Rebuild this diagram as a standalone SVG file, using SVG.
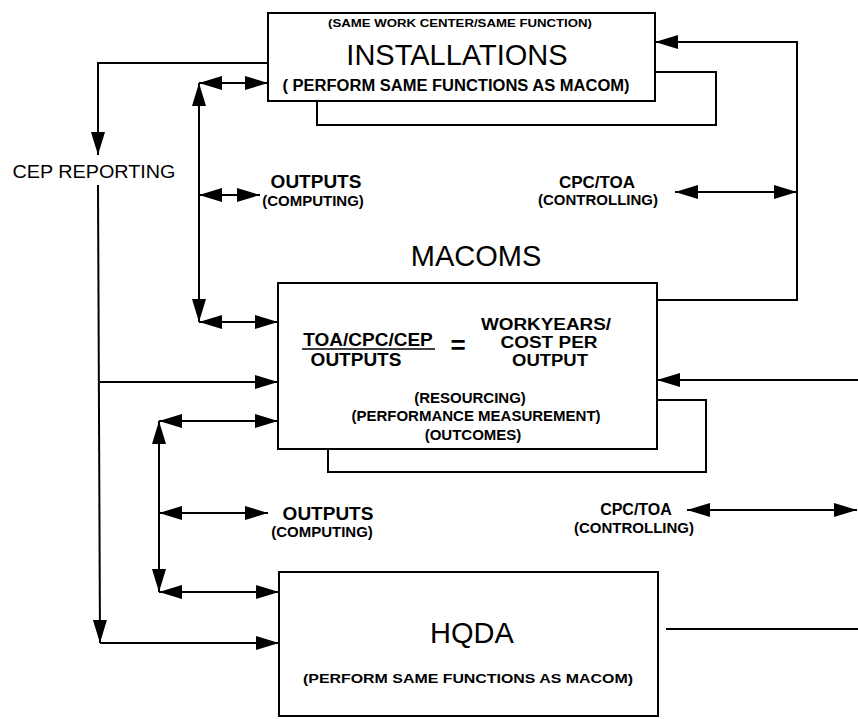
<svg xmlns="http://www.w3.org/2000/svg" width="858" height="719" viewBox="0 0 858 719">
<defs>
<style>
.box{fill:#fff;stroke:#000;stroke-width:2}
.ln{fill:none;stroke:#000;stroke-width:2}
.a{marker-end:url(#ah)}
.aa{marker-start:url(#ah);marker-end:url(#ah)}
text{font-family:"Liberation Sans",Arial,sans-serif;fill:#000;text-anchor:middle}
.big{font-size:29px}
.mid{font-size:19px;font-weight:bold}
.frac{font-size:16px;font-weight:bold}
.sm{font-size:15px;font-weight:bold}
.xs{font-size:13px;font-weight:bold}
</style>
<marker id="ah" viewBox="0 0 23 14" refX="23" refY="7" markerUnits="userSpaceOnUse" markerWidth="23" markerHeight="14" orient="auto-start-reverse">
<path d="M0,0 L23,7 L0,14 z" fill="#000"/>
</marker>
</defs>
<rect width="858" height="719" fill="#fff"/>

<g id="connectors">
<polyline class="ln a" points="268,63 98,63 98,155"/>
<polyline class="ln a" points="98,185 100,643"/>
<line class="ln a" x1="100" y1="643" x2="279" y2="643"/>
<line class="ln a" x1="100" y1="382" x2="278" y2="382"/>
<line class="ln aa" x1="199" y1="83" x2="199" y2="322"/>
<line class="ln aa" x1="199" y1="83" x2="268" y2="83"/>
<line class="ln aa" x1="199" y1="195" x2="260" y2="195"/>
<line class="ln aa" x1="199" y1="322" x2="278" y2="322"/>
<line class="ln aa" x1="159" y1="421" x2="159" y2="592"/>
<line class="ln aa" x1="159" y1="421" x2="278" y2="421"/>
<line class="ln aa" x1="159" y1="513" x2="268" y2="513"/>
<line class="ln aa" x1="159" y1="592" x2="279" y2="592"/>
<polyline class="ln a" points="657,300 797,300 797,42 655,42"/>
<line class="ln aa" x1="675" y1="192" x2="797" y2="192"/>
<line class="ln a" x1="858" y1="380" x2="657" y2="380"/>
<line class="ln aa" x1="687" y1="510" x2="857" y2="510"/>
<line class="ln" x1="666" y1="629" x2="858" y2="629"/>
</g>

<g id="installations">
<polyline class="ln" points="317,101 317,125 716,125 716,72 655,72"/>
<rect class="box" x="268" y="13" width="387" height="88"/>
<text x="460" y="27" style="font-size:11px;font-weight:bold" textLength="264" lengthAdjust="spacingAndGlyphs">(SAME WORK CENTER/SAME FUNCTION)</text>
<text class="big" x="457" y="65">INSTALLATIONS</text>
<text x="456" y="91" style="font-size:16px;font-weight:bold" textLength="347" lengthAdjust="spacingAndGlyphs">( PERFORM SAME FUNCTIONS AS MACOM)</text>
</g>

<g id="cep-reporting">
<text class="mid" x="94" y="178" style="font-weight:normal" textLength="163" lengthAdjust="spacingAndGlyphs">CEP REPORTING</text>
</g>

<g id="outputs-upper">
<text class="mid" x="316" y="188">OUTPUTS</text>
<text class="sm" x="313" y="206">(COMPUTING)</text>
</g>

<g id="cpctoa-upper">
<text class="mid" x="597" y="188" style="font-size:17px">CPC/TOA</text>
<text class="sm" x="598" y="205">(CONTROLLING)</text>
</g>

<g id="macoms">
<text class="big" x="476" y="266">MACOMS</text>
<polyline class="ln" points="328,449 328,472 706,472 706,400 657,400"/>
<rect class="box" x="278" y="283" width="379" height="166"/>
<text class="mid" x="368" y="346">TOA/CPC/CEP</text>
<line x1="302" y1="349" x2="435" y2="349" stroke="#000" stroke-width="1.5"/>
<text class="mid" x="356" y="366">OUTPUTS</text>
<text x="458" y="354" style="font-size:26px;font-weight:bold">=</text>
<text class="frac" x="546" y="330" textLength="130" lengthAdjust="spacingAndGlyphs">WORKYEARS/</text>
<text class="frac" x="549" y="348" textLength="97" lengthAdjust="spacingAndGlyphs">COST PER</text>
<text class="frac" x="550" y="366" textLength="76" lengthAdjust="spacingAndGlyphs">OUTPUT</text>
<text class="sm" x="470" y="403">(RESOURCING)</text>
<text class="sm" x="476" y="421">(PERFORMANCE MEASUREMENT)</text>
<text class="sm" x="473" y="440">(OUTCOMES)</text>
</g>

<g id="outputs-lower">
<text class="mid" x="328" y="520">OUTPUTS</text>
<text class="sm" x="322" y="537">(COMPUTING)</text>
</g>

<g id="cpctoa-lower">
<text class="mid" x="636" y="515" style="font-size:16px">CPC/TOA</text>
<text class="sm" x="634" y="533">(CONTROLLING)</text>
</g>

<g id="hqda">
<rect class="box" x="279" y="572" width="379" height="144"/>
<text class="big" x="472" y="643">HQDA</text>
<text class="xs" x="468" y="683" textLength="330" lengthAdjust="spacingAndGlyphs">(PERFORM SAME FUNCTIONS AS MACOM)</text>
</g>
</svg>
